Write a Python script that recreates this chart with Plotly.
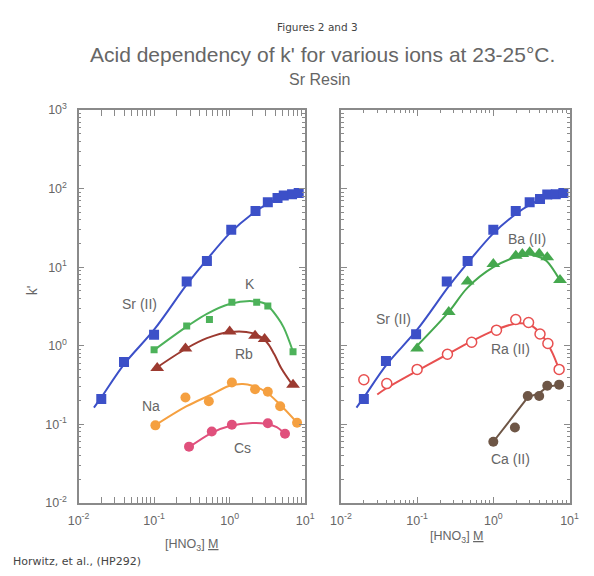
import plotly.graph_objects as go

# ---------------- data ----------------
# Left panel: Sr(II), K, Rb, Na, Cs
sr_x = [0.02, 0.04, 0.1, 0.27, 0.5, 1.05, 2.2, 3.2, 4.3, 5.2, 6.7, 8.2]
sr_y = [0.21, 0.62, 1.38, 6.6, 12.0, 30.0, 52.0, 67.0, 76.0, 82.0, 85.0, 88.0]
sr_fit_x = [0.016, 0.02, 0.04, 0.1, 0.27, 0.5, 1.0, 2.0, 3.0, 5.0, 9.0]
sr_fit_y = [0.163, 0.22, 0.58, 1.6, 6.0, 12.5, 27.0, 48.0, 62.0, 79.0, 92.0]

k_x = [0.1, 0.27, 0.54, 1.07, 2.28, 3.2, 6.9]
k_y = [0.89, 1.78, 2.16, 3.57, 3.57, 3.2, 0.84]
k_fit_x = [0.1, 0.27, 0.5, 1.0, 2.0, 3.0, 4.3, 5.2, 6.9]
k_fit_y = [0.88, 1.75, 2.55, 3.4, 3.7, 3.4, 2.3, 1.7, 0.84]

rb_x = [0.11, 0.26, 1.0, 2.17, 2.9, 6.9]
rb_y = [0.52, 0.92, 1.52, 1.34, 1.22, 0.32]
rb_fit_x = [0.1, 0.27, 0.5, 1.0, 2.0, 3.0, 3.9, 4.8, 6.9]
rb_fit_y = [0.5, 0.93, 1.25, 1.5, 1.45, 1.15, 0.78, 0.52, 0.31]

na_x = [0.104, 0.26, 0.53, 1.07, 2.17, 3.2, 4.66, 7.8]
na_y = [0.097, 0.22, 0.197, 0.34, 0.28, 0.26, 0.17, 0.105]
na_fit_x = [0.1, 0.27, 0.55, 1.0, 1.5, 2.0, 3.0, 4.6, 7.8]
na_fit_y = [0.095, 0.17, 0.235, 0.31, 0.325, 0.31, 0.26, 0.18, 0.105]

cs_x = [0.29, 0.58, 1.07, 3.2, 5.4]
cs_y = [0.052, 0.081, 0.099, 0.103, 0.076]
cs_fit_x = [0.29, 0.58, 1.0, 2.0, 3.0, 4.2, 5.4]
cs_fit_y = [0.051, 0.078, 0.095, 0.104, 0.102, 0.092, 0.075]

# Right panel: Sr(II), Ba(II), Ra(II), Ca(II)
sr2_x = [0.02, 0.039, 0.097, 0.245, 0.46, 1.0, 1.97, 3.0, 4.1, 5.1, 6.6, 8.3]
sr2_y = [0.21, 0.64, 1.4, 6.6, 12.0, 30.0, 52.0, 67.0, 74.0, 84.0, 85.0, 88.0]

ba_x = [0.1, 0.26, 0.46, 1.0, 1.97, 2.4, 3.0, 4.0, 5.1, 7.5]
ba_y = [0.92, 2.7, 6.6, 11.0, 14.0, 14.7, 15.5, 14.8, 13.4, 6.9]
ba_fit_x = [0.1, 0.26, 0.46, 1.0, 2.0, 3.0, 4.0, 5.0, 7.5]
ba_fit_y = [1.0, 2.7, 5.5, 10.0, 13.5, 14.5, 13.5, 12.0, 6.8]

ra_x = [0.02, 0.04, 0.1, 0.25, 0.52, 1.1, 1.97, 2.9, 4.1, 5.2, 7.3]
ra_y = [0.37, 0.33, 0.5, 0.78, 1.11, 1.58, 2.16, 1.98, 1.41, 1.07, 0.5]
ra_fit_x = [0.03, 0.04, 0.1, 0.25, 0.5, 1.0, 2.0, 3.0, 4.0, 5.0, 6.0, 7.3]
ra_fit_y = [0.24, 0.29, 0.48, 0.78, 1.12, 1.55, 1.92, 1.85, 1.5, 1.12, 0.8, 0.5]

ca_x = [1.0, 1.92, 2.83, 4.0, 5.1, 7.3]
ca_y = [0.06, 0.091, 0.23, 0.23, 0.31, 0.32]
ca_fit_x = [1.0, 2.83, 4.0, 5.1, 7.3]
ca_fit_y = [0.06, 0.22, 0.25, 0.3, 0.32]

x_tick_vals = [0.01, 0.1, 1, 10]
x_tick_text = ["10<sup>-2</sup>", "10<sup>-1</sup>", "10<sup>0</sup>", "10<sup>1</sup>"]
y_tick_vals = [0.01, 0.1, 1, 10, 100, 1000]
y_tick_text = ["10<sup>-2</sup>", "10<sup>-1</sup>", "10<sup>0</sup>", "10<sup>1</sup>",
               "10<sup>2</sup>", "10<sup>3</sup>"]

# ---------------- styles ----------------
BLUE = "#3c50c8"
GREEN_K = "#4db25a"
RB = "#9c3a30"
NA = "#f5a040"
CS = "#e0507c"
BA = "#45a84e"
RA = "#e85050"
CA = "#6e5646"
GRAY = "#8a8a8a"
TXT = "#666666"
FONT = "Liberation Sans, Arial, sans-serif"
FONT2 = "DejaVu Sans, sans-serif"

fig = go.Figure()


def add_series(x, y, fx, fy, color, symbol, size, xa, ya, open_marker=False, shape="spline"):
    fig.add_trace(go.Scatter(x=fx, y=fy, mode="lines", xaxis=xa, yaxis=ya,
                             line=dict(color=color, width=2, shape=shape, smoothing=1.0),
                             hoverinfo="skip", showlegend=False))
    if open_marker:
        marker = dict(symbol=symbol, size=size, color="white",
                      line=dict(color=color, width=1.5))
    else:
        marker = dict(symbol=symbol, size=size, color=color, line=dict(width=0))
    fig.add_trace(go.Scatter(x=x, y=y, mode="markers", xaxis=xa, yaxis=ya,
                             marker=marker, showlegend=False))


# left
add_series(sr_x, sr_y, sr_fit_x, sr_fit_y, BLUE, "square", 10, "x", "y")
add_series(k_x, k_y, k_fit_x, k_fit_y, GREEN_K, "square", 7, "x", "y")
add_series(rb_x, rb_y, rb_fit_x, rb_fit_y, RB, "triangle-up", 12, "x", "y")
add_series(na_x, na_y, na_fit_x, na_fit_y, NA, "circle", 10, "x", "y")
add_series(cs_x, cs_y, cs_fit_x, cs_fit_y, CS, "circle", 10, "x", "y")
# right
add_series(sr2_x, sr2_y, sr_fit_x, sr_fit_y, BLUE, "square", 10, "x2", "y2")
add_series(ba_x, ba_y, ba_fit_x, ba_fit_y, BA, "triangle-up", 12, "x2", "y2")
add_series(ra_x, ra_y, ra_fit_x, ra_fit_y, RA, "circle", 10, "x2", "y2", open_marker=True)
add_series(ca_x, ca_y, ca_fit_x, ca_fit_y, CA, "circle", 10, "x2", "y2", shape="linear")

# invisible carrier trace for the label-only y axis (keeps the labels axis-driven)
fig.add_trace(go.Scatter(x=sr_x, y=sr_y, mode="markers", xaxis="x", yaxis="y3",
                         marker=dict(opacity=0), hoverinfo="skip", showlegend=False))

minor_x = [m * 10 ** e for e in (-2, -1, 0) for m in range(2, 10)]
minor_y = [m * 10 ** e for e in (-2, -1, 0, 1, 2) for m in range(2, 10)]

axis_common = dict(type="log", showgrid=False, zeroline=False, showline=True,
                   linecolor=GRAY, linewidth=1.5, mirror="allticks",
                   ticks="inside", ticklen=6, tickwidth=1, tickcolor=GRAY,
                   tickfont=dict(family=FONT, size=12.5, color=TXT))

y0, y1 = 1 - 508 / 576, 1 - 104 / 576
fig.update_layout(
    width=594, height=576, margin=dict(l=0, r=0, t=0, b=0),
    paper_bgcolor="white", plot_bgcolor="white",
    xaxis=dict(axis_common, domain=[70 / 594, 305 / 594], range=[-2, 1], anchor="y",
               tickmode="array", tickvals=x_tick_vals, ticktext=x_tick_text,
               ticklabelstandoff=5,
               minor=dict(tickmode="array", tickvals=minor_x, ticks="inside",
                          ticklen=3, tickcolor=GRAY, showgrid=False)),
    yaxis=dict(axis_common, domain=[y0, y1], range=[-2, 3], anchor="x",
               tickmode="array", tickvals=y_tick_vals, showticklabels=False,
               minor=dict(tickmode="array", tickvals=minor_y, ticks="inside",
                          ticklen=3, tickcolor=GRAY, showgrid=False)),
    yaxis3=dict(type="log", domain=[y0, y1], range=[-2, 3], overlaying="y",
                anchor="free", position=58 / 594, side="left",
                showline=False, showgrid=False, zeroline=False, ticks="",
                tickmode="array", tickvals=y_tick_vals, ticktext=y_tick_text,
                tickfont=dict(family=FONT, size=12.5, color=TXT)),
    xaxis2=dict(axis_common, domain=[342 / 594, 579 / 594], range=[-2, 1], anchor="y2",
                tickmode="array", tickvals=x_tick_vals, ticktext=x_tick_text,
                ticklabelstandoff=5,
                minor=dict(tickmode="array", tickvals=minor_x, ticks="inside",
                           ticklen=3, tickcolor=GRAY, showgrid=False)),
    yaxis2=dict(axis_common, domain=[y0, y1], range=[-2, 3], anchor="x2",
                tickmode="array", tickvals=y_tick_vals, showticklabels=False,
                minor=dict(tickmode="array", tickvals=minor_y, ticks="inside",
                           ticklen=3, tickcolor=GRAY, showgrid=False)),
)


def txt(x, y, s, size=13, color=TXT, family=FONT, **kw):
    fig.add_annotation(x=x / 594, y=1 - y / 576, xref="paper", yref="paper",
                       text=s, showarrow=False, font=dict(family=family, size=size, color=color),
                       xanchor=kw.pop("xanchor", "center"), yanchor="middle", **kw)


txt(318, 19, "Figures 2 and 3", size=10.5, color="#444444", family=FONT2)
txt(323, 47, "Acid dependency of k' for various ions at 23-25°C.", size=21)
txt(320, 73, "Sr Resin", size=16)
# series labels
txt(133, 303, "Sr (II)", size=14)
txt(248, 283, "K", size=14)
txt(242, 355, "Rb", size=14)
txt(145, 408, "Na", size=14)
txt(240, 452, "Cs", size=14)
txt(396, 319, "Sr (II)", size=14)
txt(535, 237, "Ba (II)", size=14)
txt(518, 350, "Ra (II)", size=14)
txt(518, 463, "Ca (II)", size=14)
# axis titles
txt(22, 289, "k'", size=14, textangle=-90)
txt(188, 551, "[HNO<sub>3</sub>] <u>M</u>", size=12.5)
txt(462, 543, "[HNO<sub>3</sub>] <u>M</u>", size=12.5)
txt(0, 568, "Horwitz, et al., (HP292)", size=11, color="#444444", family=FONT2,
    xanchor="left")

fig.write_html("out.html")
